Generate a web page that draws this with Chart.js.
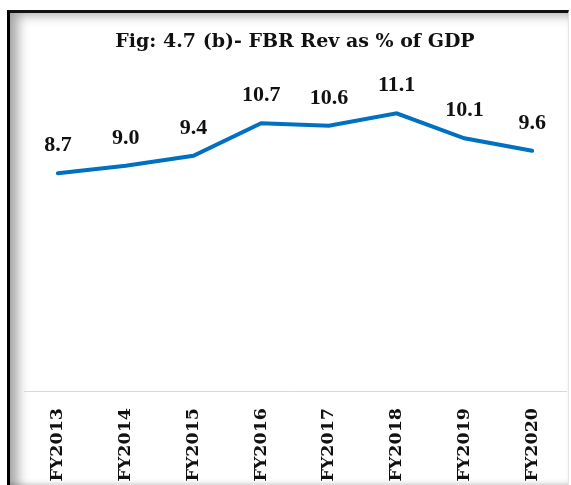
<!DOCTYPE html>
<html>
<head>
<meta charset="utf-8">
<script src="https://cdn.jsdelivr.net/npm/chart.js@4"></script>
<style>
  html, body { margin: 0; padding: 0; background: #fff; overflow: hidden; }
  #frame {
    position: absolute; left: 7px; top: 10px; width: 558px; height: 475px;
    border-left: 3px solid #000; border-top: 3px solid #111; border-right: 1px solid #e4e4e4;
    box-shadow: inset 14px 8px 12px -6px rgba(0,0,0,.35), inset 0 -7px 6px -4px rgba(0,0,0,.3);
  }
  #wrap { position: absolute; left: 0; top: 0; width: 571px; height: 485px; }
</style>
</head>
<body>
<div id="frame"></div>
<div id="wrap"><canvas id="revChart"></canvas></div>
<script>
const years = ['FY2013', 'FY2014', 'FY2015', 'FY2016', 'FY2017', 'FY2018', 'FY2019', 'FY2020'];
const revGdp = [8.7, 9.0, 9.4, 10.7, 10.6, 11.1, 10.1, 9.6];

// value labels above each point
const pointLabels = {
  id: 'pointLabels',
  afterDatasetsDraw(chart) {
    const ctx = chart.ctx;
    const meta = chart.getDatasetMeta(0);
    ctx.save();
    ctx.font = 'bold 22px "Liberation Serif"';
    ctx.fillStyle = '#111';
    ctx.textAlign = 'center';
    ctx.textBaseline = 'middle';
    meta.data.forEach((pt, i) => {
      ctx.fillText(revGdp[i].toFixed(1), pt.x, pt.y - 28);
    });
    ctx.restore();
  },
};

new Chart(document.getElementById('revChart'), {
  type: 'line',
  data: {
    labels: years,
    datasets: [{
      data: revGdp,
      borderColor: '#0070C0',
      borderWidth: 4,
      borderCapStyle: 'round',
      pointRadius: 0,
      tension: 0,
    }],
  },
  options: {
    responsive: true,
    maintainAspectRatio: false,
    animation: false,
    layout: { padding: { left: 24, right: 5, top: 0, bottom: 0 } },
    plugins: {
      legend: { display: false },
      tooltip: { enabled: false },
      title: {
        display: true,
        text: 'Fig: 4.7 (b)- FBR Rev as % of GDP',
        color: '#111',
        font: { family: '"DejaVu Serif"', size: 19, weight: 'bold' },
        padding: { top: 31, bottom: 37 },
      },
    },
    scales: {
      x: {
        offset: true,
        grid: { display: false },
        border: { color: '#d9d9d9', width: 1 },
        ticks: {
          color: '#111',
          font: { family: '"DejaVu Serif"', size: 17.5, weight: 'bold' },
          minRotation: 90,
          maxRotation: 90,
          padding: 9,
          autoSkip: false,
        },
        afterFit(scale) { scale.height = 94; },
      },
      y: { display: false, min: 0, max: 12 },
    },
  },
  plugins: [pointLabels],
});
</script>
</body>
</html>
